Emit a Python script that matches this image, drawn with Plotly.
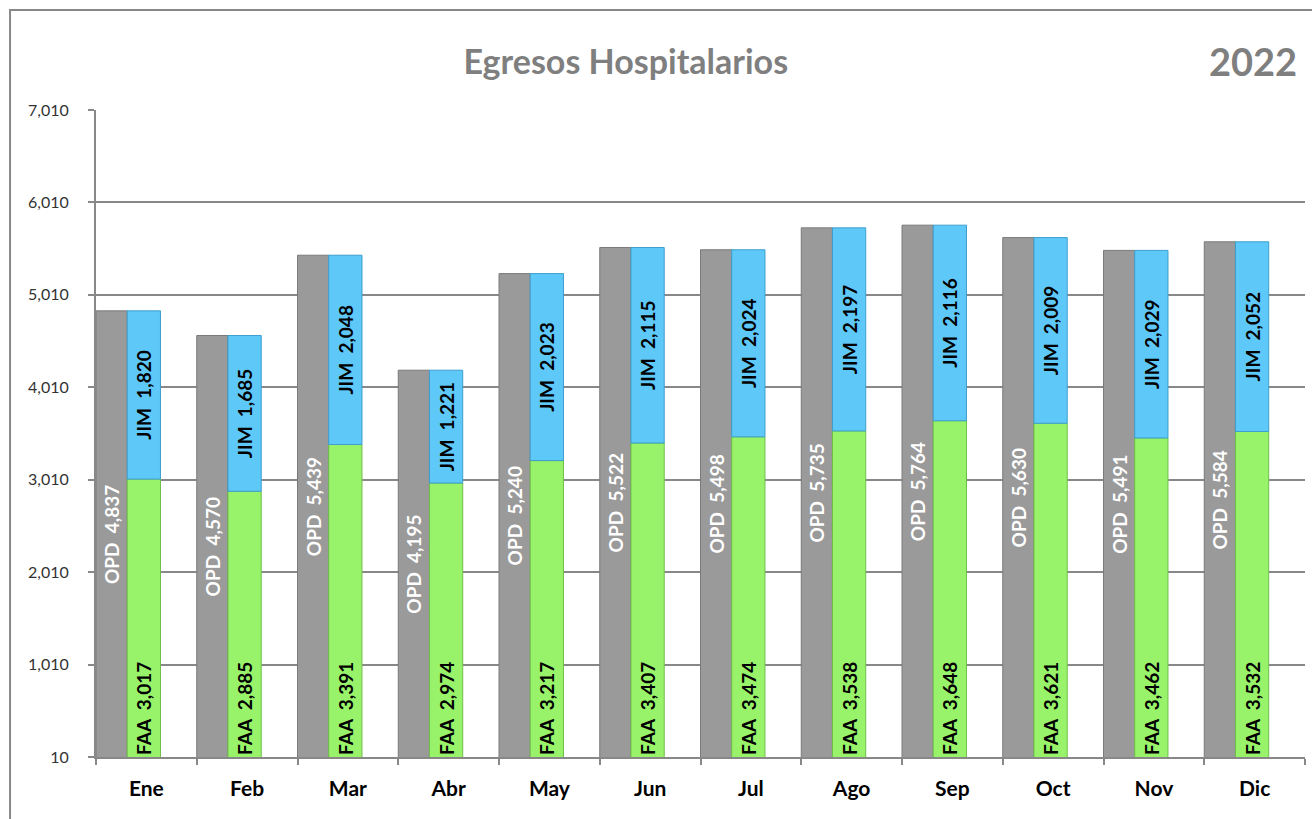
"""Egresos Hospitalarios 2022: OPD vs FAA + JIM por mes."""
import plotly.graph_objects as go

months = ["Ene", "Feb", "Mar", "Abr", "May", "Jun", "Jul", "Ago", "Sep", "Oct", "Nov", "Dic"]
opd = [4837, 4570, 5439, 4195, 5240, 5522, 5498, 5735, 5764, 5630, 5491, 5584]
faa = [3017, 2885, 3391, 2974, 3217, 3407, 3474, 3538, 3648, 3621, 3462, 3532]
jim = [1820, 1685, 2048, 1221, 2023, 2115, 2024, 2197, 2116, 2009, 2029, 2052]
y_ticks = [10, 1010, 2010, 3010, 4010, 5010, 6010, 7010]

GRAY = "#9a9a9a"
GREEN = "#99f36a"
BLUE = "#5ec8f8"
AXIS = "#888888"
NBSP = "\u00a0\u00a0"

label_font = dict(family="Lato", size=19, weight="bold")


def labels(prefix, values):
    return [f"{prefix}{NBSP}{v:,}" for v in values]


fig = go.Figure()
fig.add_trace(go.Bar(
    x=months, y=opd, offset=-0.5, width=0.31,
    marker=dict(color=GRAY, line=dict(color="#7a7a7a", width=1)),
    text=labels("OPD", opd), textposition="inside", textangle=-90,
    insidetextanchor="middle", textfont=dict(label_font, color="white"),
    name="OPD",
))
fig.add_trace(go.Bar(
    x=months, y=faa, offset=-0.19, width=0.33,
    marker=dict(color=GREEN, line=dict(color="#6fbf4a", width=1)),
    text=labels("FAA", faa), textposition="inside", textangle=-90,
    insidetextanchor="start", textfont=dict(label_font, color="black"),
    name="FAA",
))
fig.add_trace(go.Bar(
    x=months, y=jim, base=faa, offset=-0.19, width=0.33,
    marker=dict(color=BLUE, line=dict(color="#3d9fcf", width=1)),
    text=labels("JIM", jim), textposition="inside", textangle=-90,
    insidetextanchor="middle", textfont=dict(label_font, color="black"),
    name="JIM",
))

fig.update_layout(
    width=1312, height=819,
    barmode="overlay",
    showlegend=False,
    paper_bgcolor="white", plot_bgcolor="white",
    margin=dict(l=96, r=7, t=110, b=62),
    font=dict(family="Lato", color="#404040"),
    title=dict(
        text="<b>Egresos Hospitalarios</b>", x=0.477, xanchor="center",
        y=0.924, yanchor="middle",
        font=dict(family="Lato", size=34, color="#7f7f7f"),
    ),
    annotations=[dict(
        text="<b>2022</b>", xref="paper", yref="paper", x=0.995, y=1.075,
        xanchor="right", yanchor="middle", showarrow=False,
        font=dict(family="Lato", size=38, color="#7f7f7f"),
    )],
    shapes=[dict(
        type="rect", xref="paper", yref="paper",
        x0=-0.0711, x1=1.02, y0=-0.2, y1=1.1546,
        line=dict(color=AXIS, width=2), layer="below",
    )],
)
fig.update_xaxes(
    type="category", tickson="boundaries", ticks="outside", ticklen=6,
    tickcolor=AXIS, tickwidth=2, showline=True, linecolor=AXIS, linewidth=2,
    showgrid=False, tickfont=dict(family="Lato", size=21, color="black", weight="bold"),
    ticklabelstandoff=12, range=[-0.5, 11.5],
)
fig.update_yaxes(
    range=[10, 7010], tickvals=y_ticks, tickformat=",d", ticks="outside", ticklen=6,
    tickcolor=AXIS, tickwidth=2, showline=True, linecolor=AXIS, linewidth=2,
    showgrid=True, gridcolor=AXIS, gridwidth=2, zeroline=False,
    tickfont=dict(family="Lato", size=16, color="#333333"), ticklabelstandoff=16,
)

fig.write_html(
    "out.html",
    config={"displayModeBar": False},
    post_script="document.body.style.margin='0';",
)
